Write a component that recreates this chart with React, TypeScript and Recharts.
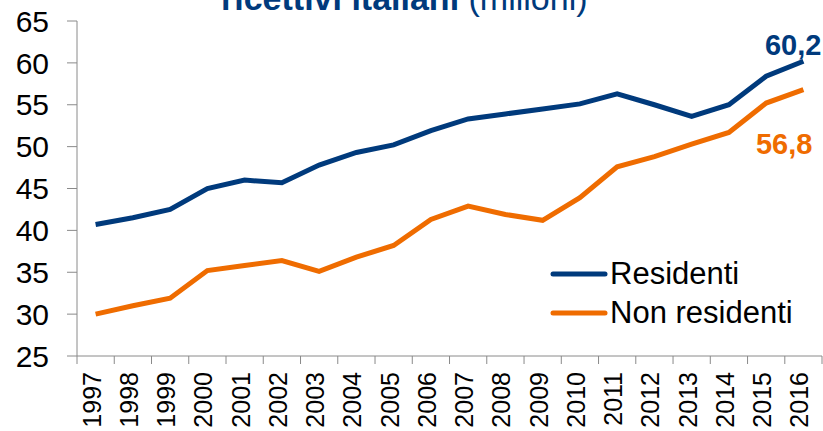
import { LineChart, Line, XAxis, YAxis, Legend, Customized } from 'recharts';

const years = [
  '1997', '1998', '1999', '2000', '2001', '2002', '2003', '2004', '2005', '2006',
  '2007', '2008', '2009', '2010', '2011', '2012', '2013', '2014', '2015', '2016',
];
const residenti = [
  40.7, 41.5, 42.5, 45.0, 46.0, 45.7, 47.8, 49.3, 50.2, 51.9,
  53.3, 53.9, 54.5, 55.1, 56.3, 55.0, 53.6, 55.0, 58.4, 60.2,
];
const nonResidenti = [
  30.0, 31.0, 31.9, 35.2, 35.8, 36.4, 35.1, 36.8, 38.2, 41.3,
  42.9, 41.9, 41.2, 43.9, 47.6, 48.8, 50.3, 51.7, 55.2, 56.8,
];
const seriesNames = ['Residenti', 'Non residenti'];
const yTicks = [25, 30, 35, 40, 45, 50, 55, 60, 65];

const BLUE = '#003a7c';
const ORANGE = '#ef6c00';
const AXIS = '#8a8a8a';
const FONT = '"Liberation Sans", Arial, sans-serif';
const HALF_STEP = 18.6;

const data = years.map((year, i) => ({
  year,
  residenti: residenti[i],
  nonResidenti: nonResidenti[i],
}));

const fmt = (v: number) => v.toFixed(1).replace('.', ',');

// Excel style: tick marks sit between categories, labels rotated
function YearTick(props: any) {
  const { x, y, payload, index } = props;
  const axisY = y - 16;
  return (
    <g>
      <line x1={x - HALF_STEP} x2={x - HALF_STEP} y1={axisY} y2={axisY + 8} stroke={AXIS} />
      {index === years.length - 1 && (
        <line x1={x + HALF_STEP} x2={x + HALF_STEP} y1={axisY} y2={axisY + 8} stroke={AXIS} />
      )}
      <text
        x={x}
        y={y}
        dy={5}
        transform={`rotate(-90, ${x}, ${y})`}
        textAnchor="end"
        fontSize={25}
        fontFamily={FONT}
        fill="#000"
      >
        {payload.value}
      </text>
    </g>
  );
}

function endLabel(color: string, dy: number, dx: number) {
  return (props: any) => {
    const { x, y, index, value } = props;
    if (index !== years.length - 1) return null;
    return (
      <text
        x={x + dx}
        y={y + dy}
        textAnchor="end"
        fontSize={29}
        fontWeight="bold"
        fontFamily={FONT}
        fill={color}
      >
        {fmt(value)}
      </text>
    );
  };
}

function Title() {
  return (
    <text x={221} y={10} fontSize={34} fontFamily={FONT} fill={BLUE}>
      <tspan fontWeight="bold">ricettivi italiani</tspan>
      <tspan> (milioni)</tspan>
    </text>
  );
}

function LegendBox(props: any) {
  const items = [...(props.payload || [])].sort(
    (a: any, b: any) => seriesNames.indexOf(a.value) - seriesNames.indexOf(b.value),
  );
  return (
    <div style={{ fontFamily: FONT, fontSize: 31, color: '#000', lineHeight: '39px' }}>
      {items.map((item: any) => (
        <div key={item.value} style={{ display: 'flex', alignItems: 'center', height: 39 }}>
          <svg width={58} height={10} style={{ marginRight: 2 }}>
            <line x1={3} x2={55} y1={5} y2={5} stroke={item.color} strokeWidth={5} strokeLinecap="round" />
          </svg>
          <span>{item.value}</span>
        </div>
      ))}
    </div>
  );
}

export default function App() {
  return (
    <div style={{ position: 'absolute', left: 0, top: 0 }}>
      <LineChart width={823} height={431} data={data} margin={{ top: 21, right: 1, left: 0, bottom: 0 }}>
        <XAxis
          dataKey="year"
          stroke={AXIS}
          tickLine={false}
          tickSize={8}
          tickMargin={8}
          height={75}
          interval={0}
          padding={{ left: HALF_STEP, right: HALF_STEP }}
          tick={<YearTick />}
        />
        <YAxis
          domain={[25, 65]}
          ticks={yTicks}
          stroke={AXIS}
          width={77}
          tickSize={10}
          tickMargin={18}
          tick={{ fontSize: 30, fill: '#000', fontFamily: FONT }}
          interval={0}
        />
        <Legend
          layout="horizontal"
          verticalAlign="middle"
          align="center"
          content={<LegendBox />}
          wrapperStyle={{ left: 550, top: 254, width: 272, height: 80 }}
        />
        <Line
          dataKey="residenti"
          name={seriesNames[0]}
          stroke={BLUE}
          strokeWidth={5}
          dot={false}
          isAnimationActive={false}
          label={endLabel(BLUE, -6, 18)}
        />
        <Line
          dataKey="nonResidenti"
          name={seriesNames[1]}
          stroke={ORANGE}
          strokeWidth={5}
          dot={false}
          isAnimationActive={false}
          label={endLabel(ORANGE, 64, 9)}
        />
        <Customized component={Title} />
      </LineChart>
    </div>
  );
}
